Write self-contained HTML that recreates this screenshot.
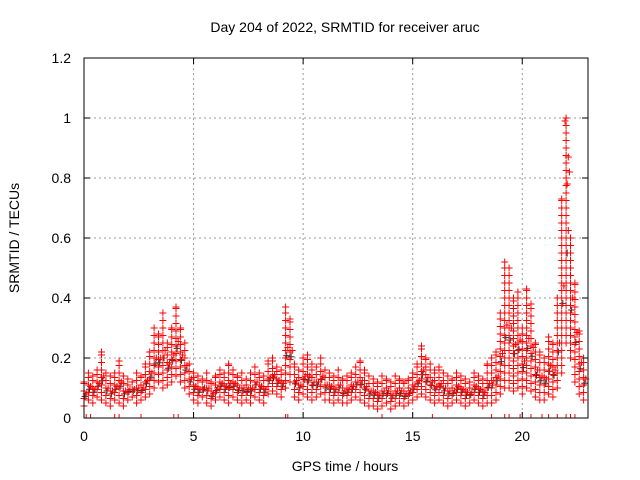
<!DOCTYPE html>
<html><head><meta charset="utf-8"><style>
body{margin:0;background:#fff}
svg{display:block;font-family:"Liberation Sans",sans-serif}
</style></head><body>
<svg id="chart" width="640" height="480">
<text x="345" y="32" font-size="14" text-anchor="middle">Day 204 of 2022, SRMTID for receiver aruc</text>
<text x="345" y="471" font-size="14" text-anchor="middle">GPS time / hours</text>
<text transform="translate(19,238) rotate(-90)" font-size="14" text-anchor="middle">SRMTID / TECUs</text>
<g id="grid"></g>
<g id="marks"></g>
<rect x="84" y="58" width="504" height="360" fill="none" stroke="#000"/>
<g id="ticks"></g>
</svg>
<script>
const xTicks=[0,5,10,15,20];
const yTicks=[0,0.2,0.4,0.6,0.8,1,1.2];
const yTickLabels=["0","0.2","0.4","0.6","0.8","1","1.2"];
const t0=0, dt=0.2;
const hi=[.12,.15,.14,.16,.22,.15,.14,.15,.19,.14,.13,.12,.15,.14,.18,
.22,.30,.28,.35,.25,.30,.37,.30,.25,.18,
.15,.14,.13,.15,.12,.14,.16,.15,.18,.16,.14,.15,.13,.15,.17,.15,.14,.19,
.20,.17,.16,
.37,.33,
.18,.16,.20,.21,.18,.17,.20,.16,.15,.14,.16,.13,
.14,.15,.17,.19,.16,.14,.13,.12,.14,.13,.12,.14,.13,.12,.13,.15,
.18,.24,.20,.18,.16,.17,.15,.14,.13,.15,.14,.13,.12,.15,.14,.13,.18,
.20,.22,
.35,.52,.50,.40,.42,.30,.43,.38,.25,.22,
.20,.27,.25,.40,.73,1.0,.60,.45,.29,.20];
const lo=[.04,.06,.05,.07,.06,.05,.04,.06,.05,.04,.06,.07,.05,.06,.07,
.08,.10,.12,.10,.11,.12,.14,.12,.10,.08,
.06,.05,.07,.05,.04,.06,.07,.06,.05,.07,.06,.05,.06,.05,.07,.06,.05,.08,
.09,.08,.07,
.10,.12,
.07,.06,.08,.07,.06,.07,.08,.06,.06,.05,.06,.05,
.05,.06,.07,.06,.05,.04,.04,.03,.04,.05,.03,.04,.05,.04,.05,.06,
.07,.08,.07,.06,.05,.06,.05,.04,.05,.06,.05,.04,.05,.06,.05,.04,.05,
.05,.06,
.08,.10,.10,.09,.10,.08,.10,.09,.07,.06,
.06,.08,.07,.10,.15,.25,.20,.12,.08,.06];
const extraT=[22.1,22.15,21.95,22.05];
const extraV=[.87,.82,.99,.78];
const zeroT=[0.1,0.3,1.4,1.6,2.6,4.1,4.3,7.1,9.2,9.3,13.6,15.9,18.6,19.2,19.4,19.9,20.4,20.9,21.2,21.6,22.0,22.2,22.4];
const X=v=>84+v*504/23, Y=v=>418-v*300;
const NS="http://www.w3.org/2000/svg";
const grid=document.getElementById('grid'),ticks=document.getElementById('ticks'),marks=document.getElementById('marks');
function ln(p,x1,y1,x2,y2,c,dash){const l=document.createElementNS(NS,'line');l.setAttribute('x1',x1);l.setAttribute('y1',y1);l.setAttribute('x2',x2);l.setAttribute('y2',y2);l.setAttribute('stroke',c);if(dash)l.setAttribute('stroke-dasharray',dash);p.appendChild(l);return l;}
function tx(x,y,s,a){const t=document.createElementNS(NS,'text');t.setAttribute('x',x);t.setAttribute('y',y);t.setAttribute('font-size','14');t.setAttribute('text-anchor',a);t.textContent=s;ticks.appendChild(t);return t;}
xTicks.forEach(v=>{const x=X(v);
 if(v>0){const g=ln(grid,x,58,x,418,'#999','2,3');}
 ln(ticks,x,418,x,412,'#000');ln(ticks,x,58,x,64,'#000');
 const t=tx(x,441,String(v),'middle');
 
 });
yTicks.forEach((v,i)=>{const y=Y(v);
 if(v>0&&v<1.2){const g=ln(grid,84,y,588,y,'#999','2,3');}
 ln(ticks,84,y,90,y,'#000');ln(ticks,588,y,582,y,'#000');
 const t=tx(71,y+5,yTickLabels[i],'end');
 
 });
let d='',db='';
function cross(x,y){return `M${(x-3.5).toFixed(1)} ${y.toFixed(1)}h7M${x.toFixed(1)} ${(y-3.5).toFixed(1)}v7`;}
hi.forEach((h,i)=>{const t=t0+i*dt,x=X(t),l=lo[i];
 for(let v=l;v<=h+1e-9;v+=0.025){d+=cross(x,Y(v));}
 d+=cross(x,Y(h));
 d+=cross(X(t+0.1),Y((h+l)/2));
 db+=cross(X(t+0.05),Y(l+(h-l)*0.4));});
extraT.forEach((t,i)=>{d+=cross(X(t),Y(extraV[i]));});
zeroT.forEach(t=>{d+=`M${X(t).toFixed(1)} 414v4`;});
const pb=document.createElementNS(NS,'path');pb.setAttribute('d',db);pb.setAttribute('stroke','#333');pb.setAttribute('fill','none');


marks.appendChild(pb);
const p=document.createElementNS(NS,'path');p.setAttribute('d',d);p.setAttribute('stroke','#f00');p.setAttribute('fill','none');


marks.appendChild(p);
</script>
</body></html>
